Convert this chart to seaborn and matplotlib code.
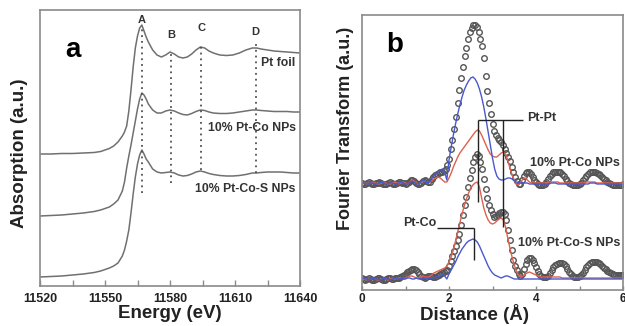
import numpy as np
import matplotlib
matplotlib.use("Agg")
import matplotlib.pyplot as plt
from matplotlib.ticker import MultipleLocator
import seaborn as sns

sns.set_style("white")
plt.rcParams['font.family'] = ['Liberation Sans', 'DejaVu Sans']

# ---------------- Panel a : XANES ----------------
energy = [11520, 11525, 11530, 11535, 11540, 11545, 11548, 11550, 11552, 11554, 11556, 11558,
          11559, 11560, 11561, 11562, 11563, 11564, 11565, 11566, 11567, 11568, 11569, 11570,
          11572, 11574, 11576, 11578, 11580, 11582, 11584, 11586, 11588, 11590, 11592, 11594,
          11596, 11598, 11600, 11603, 11606, 11609, 11612, 11615, 11618, 11620, 11622, 11625,
          11628, 11631, 11634, 11637, 11640]
pt_foil = [132, 132, 132.5, 132.5, 133, 133.5, 134.5, 136, 137.5, 140, 144, 150,
           154, 160, 175, 196, 219, 238, 250, 258, 261, 255, 249, 244,
           236, 231, 229, 231, 234, 232, 229, 228, 229, 232, 236, 239,
           238, 235, 233, 231, 230.5, 231, 233, 236, 238, 238, 237, 236,
           235, 234.5, 234, 233.5, 233]
pt_co = [70, 70.5, 71, 72, 73, 74.5, 76, 77.5, 79, 82, 86, 95,
         104, 118, 130, 141, 153, 165, 177, 187, 193, 191, 187, 182,
         176, 173, 173, 175, 176, 175, 173, 171.5, 171, 172.5, 174.5, 176,
         175.5, 174, 173, 172.5, 172.5, 173, 174, 175, 176, 176, 175.5, 175,
         174.5, 174.5, 174.5, 174, 174]
pt_co_s = [9, 9.5, 10, 11, 12, 13.5, 15, 16.5, 18, 20, 23, 30,
           36, 45, 56, 73, 92, 109, 122, 131, 136, 132, 127, 124,
           117, 114, 113, 113.5, 114, 113, 111, 110, 110.5, 112, 114, 115,
           114, 112.5, 111.5, 110.5, 110, 110, 110.5, 111.5, 113, 113, 113.5, 114,
           114, 114, 113.5, 113, 113]
feature_labels = ['A', 'B', 'C', 'D']
feature_energy = [11567, 11580.5, 11594.5, 11619.5]
feature_top = [258, 236, 241, 243]
feature_bottom = [93, 103, 116, 113]
feature_label_y = [266, 251, 258, 254]
xanes_labels = ['Pt foil', '10% Pt-Co NPs', '10% Pt-Co-S NPs']
xanes_label_y = [223, 158, 97]

# ---------------- Panel b : Fourier transform ----------------
distance_exp = np.linspace(0, 6, 151)   # measured points (circles)
co_circles = [107, 106, 106, 107, 108, 107, 106, 106, 107, 107, 108, 107, 106, 106, 106, 107, 108, 107, 106, 106, 107, 108, 108, 107, 107,
              106, 107, 108, 110, 110, 109, 107, 106, 106, 107, 109, 110, 109, 108, 108, 111, 113, 115, 116, 117, 118, 118, 119, 121, 125,
              131, 141, 150, 161, 173, 187, 200, 212, 223, 234, 242, 251, 258, 262, 265, 265, 263, 258, 251, 244, 232, 214, 199, 187, 176,
              166, 159, 155, 152, 150, 148, 145, 141, 137, 133, 129, 123, 118, 113, 109, 106, 106, 110, 114, 117, 118, 118, 116, 113, 110,
              108, 106, 105, 105, 105, 106, 108, 111, 114, 116, 118, 118, 118, 118, 118, 116, 114, 111, 109, 107, 106, 105, 105, 105, 105,
              106, 107, 110, 112, 114, 116, 118, 118, 118, 118, 117, 116, 115, 113, 111, 110, 108, 107, 106, 105, 105, 105, 105, 105, 105,
              106]
cos_circles = [12, 11, 10, 11, 12, 11, 10, 10, 11, 12, 12, 11, 10, 10, 11, 12, 12, 11, 11, 12, 12, 12, 13, 14, 15,
               16, 18, 19, 20, 21, 21, 20, 18, 16, 14, 13, 12, 13, 14, 14, 14, 13, 13, 14, 15, 16, 17, 18, 19, 20,
               24, 29, 34, 39, 44, 50, 56, 65, 75, 85, 93, 103, 112, 120, 128, 133, 136, 134, 128, 121, 111, 101, 92, 85, 80,
               76, 73, 74, 75, 77, 78, 78, 76, 70, 60, 50, 40, 30, 24, 20, 16, 14, 16, 21, 26, 30, 32, 32, 30, 27,
               23, 19, 16, 14, 13, 13, 13, 14, 17, 20, 23, 25, 26, 27, 27, 27, 26, 24, 21, 18, 16, 14, 13, 13, 13,
               14, 15, 17, 20, 23, 25, 27, 28, 28, 28, 28, 27, 26, 24, 22, 21, 19, 18, 17, 16, 15, 15, 15, 15, 15,
               15]
distance_fit = np.linspace(0, 6, 121)   # fitted / partial curves
co_blue = [107, 107, 106, 106, 107, 107, 106, 106, 107, 108, 107, 106, 106, 107, 107, 106, 106, 107, 108, 107,
           106, 106, 108, 109, 108, 106, 106, 108, 110, 109, 107, 108, 111, 114, 116, 118, 120, 121, 118, 110,
           130, 143, 155, 166, 176, 185, 193, 200, 205, 209, 212, 213, 211, 207, 201, 193, 183, 171, 158, 145,
           132, 121, 114, 111, 110, 110, 111, 112, 112, 111, 109, 108, 107, 107, 107, 107, 107, 106, 106, 106,
           106, 106, 106, 106, 106, 106, 106, 107, 107, 107, 106, 106, 106, 106, 106, 106, 106, 106, 106, 106,
           106, 106, 106, 106, 106, 107, 107, 107, 106, 106, 106, 106, 106, 106, 106, 106, 106, 106, 106, 105,
           105]
co_red = [108, 107, 107, 106, 107, 108, 107, 106, 106, 107, 108, 107, 106, 106, 107, 108, 107, 106, 107, 108,
          107, 106, 108, 110, 109, 107, 106, 107, 109, 109, 107, 108, 109, 111, 112, 113, 112, 110, 108, 108,
          112, 117, 123, 128, 133, 137, 140, 143, 146, 149, 152, 155, 158, 160, 159, 155, 150, 145, 140, 136,
          134, 133, 133, 135, 137, 138, 136, 130, 122, 115, 110, 106, 105, 108, 111, 112, 110, 108, 107, 107,
          107, 107, 107, 107, 107, 107, 108, 108, 108, 108, 108, 107, 107, 107, 107, 107, 107, 107, 107, 107,
          107, 107, 107, 108, 108, 108, 108, 108, 107, 107, 107, 107, 107, 107, 107, 107, 107, 107, 107, 107,
          107]
cos_blue = [11, 12, 11, 10, 11, 12, 11, 11, 10, 11, 12, 11, 11, 10, 11, 12, 11, 11, 12, 11,
            11, 12, 12, 11, 11, 12, 11, 11, 12, 12, 11, 12, 12, 12, 13, 13, 14, 16, 14, 11,
            16, 20, 24, 28, 33, 37, 41, 44, 47, 49, 50, 51, 50, 48, 44, 39, 34, 29, 24, 20,
            17, 15, 14, 13, 12, 13, 14, 14, 13, 12, 11, 11, 11, 11, 11, 11, 11, 11, 11, 11,
            11, 11, 11, 11, 11, 11, 11, 11, 11, 11, 11, 11, 11, 11, 11, 11, 11, 11, 11, 11,
            11, 11, 11, 11, 11, 11, 11, 11, 11, 11, 11, 11, 11, 11, 11, 11, 11, 11, 11, 11,
            11]
cos_red = [12, 11, 11, 10, 11, 12, 11, 10, 10, 11, 12, 11, 10, 11, 12, 11, 11, 12, 12, 11,
           12, 13, 14, 14, 13, 12, 12, 13, 14, 13, 13, 13, 15, 17, 18, 19, 20, 21, 22, 24,
           28, 33, 40, 49, 58, 67, 76, 84, 91, 97, 102, 105, 107, 108, 103, 92, 82, 75, 70, 67,
           66, 67, 69, 71, 72, 70, 63, 52, 42, 33, 25, 19, 15, 13, 14, 16, 17, 18, 17, 16,
           15, 14, 13, 13, 13, 13, 13, 13, 13, 13, 13, 13, 12, 12, 12, 12, 12, 12, 12, 12,
           12, 12, 12, 12, 12, 12, 12, 12, 12, 12, 12, 12, 12, 12, 12, 12, 12, 12, 12, 12,
           12]
ptpt_r = [2.67, 3.24]
ptpt_bottom = [88, 63]
ptpt_level = 170
ptpt_end = 3.70
ptco_r = 2.58
ptco_start = 1.72
ptco_level = 62
ptco_bottom = 30
ft_labels = ['10% Pt-Co NPs', '10% Pt-Co-S NPs']
ft_label_y = [127, 47]

# ---------------- Figure ----------------
W, H = 625, 326
fig = plt.figure(figsize=(W / 100, H / 100), dpi=100)
ax_a = fig.add_axes([40 / W, 40 / H, 260 / W, 276 / H])
ax_b = fig.add_axes([362 / W, 36 / H, 261 / W, 275 / H])

line_gray = '#707070'
text_gray = '#333333'
for y in [pt_foil, pt_co, pt_co_s]:
    sns.lineplot(x=energy, y=y, ax=ax_a, color=line_gray, linewidth=1.1, errorbar=None)
ax_a.vlines(feature_energy, feature_bottom, feature_top, colors='#505050',
            linestyles=(0, (1, 2.2)), linewidth=1.3)
for lab, e, yl in zip(feature_labels, feature_energy, feature_label_y):
    ax_a.text(e, yl, lab, ha='center', va='center', fontsize=8, fontweight='bold', color=text_gray)
for lab, yl in zip(xanes_labels, xanes_label_y):
    ax_a.text(11638, yl, lab, ha='right', va='center', fontsize=8.8, fontweight='bold', color=text_gray)
ax_a.text(11535, 236, 'a', ha='center', va='center', fontsize=20, fontweight='bold', color='black')
ax_a.set_xlim(11520, 11640)
ax_a.set_ylim(0, 276)
ax_a.xaxis.set_major_locator(MultipleLocator(30))
ax_a.xaxis.set_minor_locator(MultipleLocator(15))
ax_a.set_yticks([])

# panel b
circ_kw = dict(marker='o', linestyle='none', markerfacecolor='none', markeredgecolor='#555555',
               markersize=4.0, markeredgewidth=1.0, errorbar=None)
sns.lineplot(x=distance_exp, y=co_circles, ax=ax_b, **circ_kw)
sns.lineplot(x=distance_exp, y=cos_circles, ax=ax_b, **circ_kw)
for y in [co_red, cos_red]:
    sns.lineplot(x=distance_fit, y=y, ax=ax_b, color='#e0604e', linewidth=1.0, errorbar=None)
for y in [co_blue, cos_blue]:
    sns.lineplot(x=distance_fit, y=y, ax=ax_b, color='#4a58d0', linewidth=1.0, errorbar=None)
ax_b.vlines(ptpt_r, ptpt_bottom, ptpt_level, colors='#222222', linewidth=1.0)
ax_b.hlines(ptpt_level, ptpt_r[0], ptpt_end, colors='#222222', linewidth=1.0)
ax_b.hlines(ptco_level, ptco_start, ptco_r, colors='#222222', linewidth=1.0)
ax_b.vlines(ptco_r, ptco_bottom, ptco_level, colors='#222222', linewidth=1.0)
ax_b.text(ptpt_end + 0.1, ptpt_level + 2, 'Pt-Pt', ha='left', va='center', fontsize=9,
          fontweight='bold', color=text_gray)
ax_b.text(ptco_start - 0.02, ptco_level + 5, 'Pt-Co', ha='right', va='center', fontsize=9,
          fontweight='bold', color=text_gray)
for lab, yl in zip(ft_labels, ft_label_y):
    ax_b.text(5.93, yl, lab, ha='right', va='center', fontsize=9, fontweight='bold', color=text_gray)
ax_b.text(0.76, 245, 'b', ha='center', va='center', fontsize=20, fontweight='bold', color='black')
ax_b.set_xlim(0, 6)
ax_b.set_ylim(0, 275)
ax_b.xaxis.set_major_locator(MultipleLocator(2))
ax_b.xaxis.set_minor_locator(MultipleLocator(1))
ax_b.set_yticks([])

for ax, tl, pad, fs in [(ax_a, 4, 5, 9), (ax_b, 3, 2.5, 8.5)]:
    ax.set_xlabel('')
    ax.set_ylabel('')
    for s in ax.spines.values():
        s.set_color('#8a8a8a')
        s.set_linewidth(1.2)
        s.set_visible(True)
    ax.tick_params(axis='x', which='both', direction='in', length=tl, width=1.0, color='#8a8a8a',
                   bottom=True, top=False, pad=pad, labelsize=fs, labelcolor='#222222')
    for t in ax.get_xticklabels():
        t.set_fontweight('bold')

fig.text(20 / W, 1 - 153 / H, 'Absorption (a.u.)', rotation=90, ha='center', va='center',
         fontsize=13.5, fontweight='bold', color='#222222')
fig.text(170 / W, 1 - 318 / H, 'Energy (eV)', ha='center', va='baseline',
         fontsize=13.5, fontweight='bold', color='#222222')
fig.text(345 / W, 1 - 128 / H, 'Fourier Transform (a.u.)', rotation=90, ha='center', va='center',
         fontsize=13, fontweight='bold', color='#222222')
fig.text(475 / W, 1 - 320 / H, 'Distance (Å)', ha='center', va='baseline',
         fontsize=13.5, fontweight='bold', color='#222222')

fig.savefig('out.png', dpi=100)
